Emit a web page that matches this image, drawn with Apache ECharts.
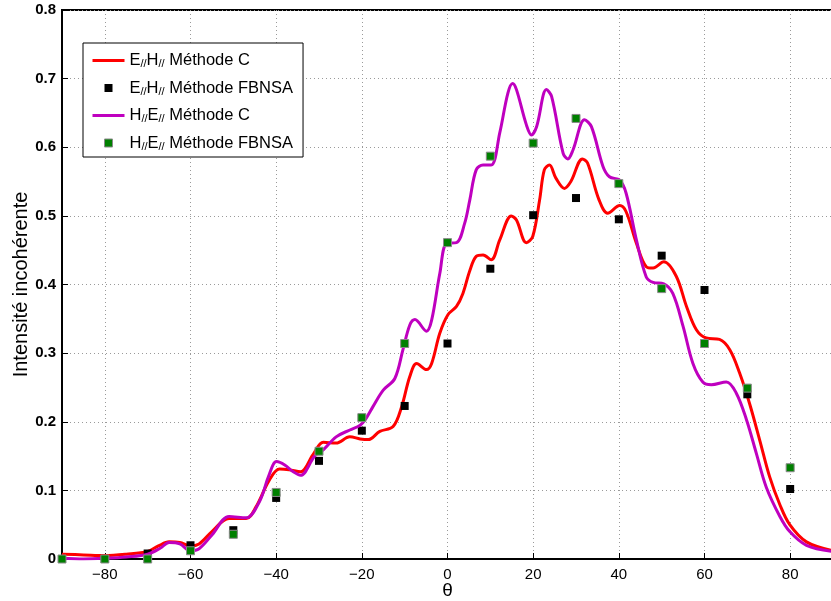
<!DOCTYPE html>
<html>
<head>
<meta charset="utf-8">
<script src="https://cdn.jsdelivr.net/npm/echarts@6/dist/echarts.min.js"></script>
<style>
  html, body { margin: 0; padding: 0; background: #fff; }
  #chart { width: 831px; height: 601px; }
</style>
</head>
<body>
<div id="chart"></div>
<script>
var chart = echarts.init(document.getElementById('chart'));

// angles of the FBNSA points
var thetaPts = [-90, -80, -70, -60, -50, -40, -30, -20, -10, 0, 10, 20, 30, 40, 50, 60, 70, 80];
var ehFbnsa = [0.0, 0.0, 0.008, 0.02, 0.042, 0.089, 0.143, 0.187, 0.223, 0.314, 0.423, 0.501, 0.526, 0.495, 0.442, 0.392, 0.24, 0.102];
var heFbnsa = [0.0, 0.0, 0.0, 0.012, 0.036, 0.097, 0.157, 0.206, 0.314, 0.461, 0.587, 0.606, 0.642, 0.547, 0.394, 0.314, 0.249, 0.133];

// E//H// methode C curve
var ehTheta = [-90, -85, -80, -75, -70, -67.5, -65, -62.5, -60, -58, -55, -51, -47, -44.7, -41.6, -39.2, -37, -34.3, -31.4, -29,
  -26, -22.8, -20.4, -18.5, -15.8, -12.7, -10.7, -8.8, -7.2, -4.9, -3.7, -1.8, 0.1, 2.1, 3.6, 5.2, 6.7, 8.3, 10.2, 12.2,
  14.9, 16.1, 18.4, 19.9, 21.5, 22.6, 23.8, 25.3, 27.3, 28.8, 31.5, 32.7, 35.4, 37.4, 40.2, 41.7, 44.1, 46.4, 48, 50.5,
  53.4, 55.8, 58.1, 60.4, 63.5, 65.9, 68.2, 70.5, 72.9, 75.2, 77.6, 79.9, 83.8, 90];
var ehC = [0.007, 0.006, 0.005, 0.007, 0.011, 0.019, 0.025, 0.024, 0.019, 0.022, 0.04, 0.059, 0.059, 0.076, 0.115, 0.131, 0.13, 0.127, 0.152, 0.17,
  0.169, 0.178, 0.175, 0.174, 0.186, 0.193, 0.222, 0.266, 0.285, 0.276, 0.285, 0.329, 0.356, 0.368, 0.387, 0.42, 0.441, 0.443, 0.436, 0.465,
  0.5, 0.494, 0.461, 0.47, 0.523, 0.567, 0.574, 0.555, 0.54, 0.55, 0.583, 0.577, 0.523, 0.504, 0.515, 0.506, 0.46, 0.426, 0.424, 0.433,
  0.412, 0.368, 0.334, 0.322, 0.32, 0.305, 0.271, 0.227, 0.173, 0.12, 0.079, 0.05, 0.025, 0.012];

// H//E// methode C curve
var heTheta = [-90, -85, -80, -75, -70, -67, -65, -62.5, -60, -58, -55, -51, -47, -43.8, -41.8, -39.9, -38, -36, -34.3, -31, -29,
  -26, -22.8, -20.4, -19, -17.4, -15, -12.3, -10.4, -8.8, -7.6, -4.9, -3.7, -1.8, -0.2, 2.1, 4, 5.2, 6.7, 8.3, 10.2, 12.2,
  14.1, 15.2, 16.1, 18.4, 19.6, 20.8, 23.1, 24.3, 27, 28.1, 29.3, 32, 33.6, 36.3, 37.8, 40.2, 41.7, 44.1, 46.4, 48, 50.5,
  52.6, 55, 57.3, 59.6, 61.6, 65.1, 67.4, 69.8, 72.1, 74.4, 77.6, 79.9, 83.8, 90];
var heC = [0.001, 0.0, 0.001, 0.003, 0.007, 0.016, 0.024, 0.022, 0.012, 0.015, 0.035, 0.062, 0.06, 0.085, 0.12, 0.142, 0.137, 0.127, 0.122, 0.15, 0.159,
  0.178, 0.188, 0.195, 0.205, 0.222, 0.246, 0.263, 0.305, 0.341, 0.349, 0.332, 0.348, 0.416, 0.46, 0.461, 0.489, 0.523, 0.567, 0.574, 0.574, 0.621,
  0.679, 0.693, 0.684, 0.633, 0.618, 0.63, 0.684, 0.674, 0.591, 0.583, 0.596, 0.64, 0.63, 0.572, 0.557, 0.552, 0.533, 0.465, 0.411, 0.403, 0.401,
  0.387, 0.339, 0.285, 0.258, 0.254, 0.258, 0.242, 0.203, 0.154, 0.105, 0.062, 0.04, 0.02, 0.011];

var xTicks = [-80, -60, -40, -20, 0, 20, 40, 60, 80];

var seriesNames = ['EH C', 'EH FBNSA', 'HE C', 'HE FBNSA'];
var legendTexts = {
  'EH C': '{n|E}{s|//}{n|H}{s|//}{n| Méthode C}',
  'EH FBNSA': '{n|E}{s|//}{n|H}{s|//}{n| Méthode FBNSA}',
  'HE C': '{n|H}{s|//}{n|E}{s|//}{n| Méthode C}',
  'HE FBNSA': '{n|H}{s|//}{n|E}{s|//}{n| Méthode FBNSA}'
};

function pairs(xs, ys) {
  var out = [];
  for (var i = 0; i < xs.length; i++) out.push([xs[i], ys[i]]);
  return out;
}

var FONT = 'Liberation Sans';
var lineIcon = 'path://M0,0M32,14M0,5.5h32v3h-32z';
var sqIcon = 'path://M0,0M32,14M12,3h8v8h-8z';

var option = {
  animation: false,
  textStyle: { fontFamily: FONT },
  grid: {
    left: 62, top: 10, width: 771, height: 549,
    outerBoundsMode: 'none', containLabel: false,
    show: true, borderColor: '#000', borderWidth: 2, backgroundColor: 'transparent'
  },
  legend: {
    orient: 'vertical',
    left: 83, top: 43,
    padding: [9, 10, 5, 9],
    itemWidth: 32, itemHeight: 14, itemGap: 10,
    backgroundColor: '#fff',
    borderColor: '#000', borderWidth: 1,
    borderRadius: 0,
    selectedMode: false,
    data: [
      { name: 'EH C', icon: lineIcon, itemStyle: { color: '#ff0000', borderWidth: 0 } },
      { name: 'EH FBNSA', icon: sqIcon, itemStyle: { color: '#000', borderWidth: 0 } },
      { name: 'HE C', icon: lineIcon, itemStyle: { color: '#bf00bf', borderWidth: 0 } },
      { name: 'HE FBNSA', icon: sqIcon, itemStyle: { color: '#008000', borderColor: '#8a8a8a', borderWidth: 1 } }
    ],
    formatter: function (name) { return legendTexts[name]; },
    textStyle: {
      rich: {
        n: { fontFamily: FONT, fontSize: 16.5, color: '#000', lineHeight: 18, verticalAlign: 'middle' },
        s: { fontFamily: FONT, fontSize: 11, color: '#000', lineHeight: 10, verticalAlign: 'bottom', padding: [0, 0, 0, 0] }
      }
    }
  },
  xAxis: {
    type: 'value', min: -90, max: 90,
    name: 'θ', nameLocation: 'middle', nameGap: 22, nameMoveOverlap: false,
    nameTextStyle: { fontFamily: FONT, fontSize: 19, color: '#000' },
    axisLine: { show: true, onZero: false, lineStyle: { color: '#000', width: 2 } },
    axisTick: { show: true, inside: true, length: 6, customValues: xTicks, lineStyle: { color: '#000', width: 1 } },
    axisLabel: {
      customValues: xTicks, color: '#000', fontFamily: FONT, fontSize: 15, margin: 8,
      formatter: function (v) { return String(v).replace('-', '\u2212'); }
    },
    splitLine: { show: true, lineStyle: { color: '#9a9a9a', type: [1, 3], width: 1 } }
  },
  yAxis: {
    type: 'value', min: 0, max: 0.8, interval: 0.1,
    name: 'Intensité incohérente', nameLocation: 'middle', nameRotate: 90, nameGap: 31, nameMoveOverlap: false,
    nameTextStyle: { fontFamily: FONT, fontSize: 20, color: '#000' },
    axisLine: { show: true, onZero: false, lineStyle: { color: '#000', width: 2 } },
    axisTick: { show: true, inside: true, length: 6, lineStyle: { color: '#000', width: 1 } },
    axisLabel: {
      color: '#000', fontFamily: FONT, fontSize: 15, fontWeight: 'bold', margin: 6,
      formatter: function (v) { return v === 0 ? '0' : v.toFixed(1); }
    },
    splitLine: { show: true, lineStyle: { color: '#9a9a9a', type: [1, 3], width: 1 } }
  },
  series: [
    {
      name: seriesNames[0], type: 'line', data: pairs(ehTheta, ehC),
      smooth: 0.35, showSymbol: false, symbol: 'none',
      lineStyle: { color: '#ff0000', width: 3 }, itemStyle: { color: '#ff0000' }, z: 2
    },
    {
      name: seriesNames[1], type: 'scatter', data: pairs(thetaPts, ehFbnsa),
      symbol: 'rect', symbolSize: 8, clip: false,
      itemStyle: { color: '#000', opacity: 1 }, z: 3
    },
    {
      name: seriesNames[2], type: 'line', data: pairs(heTheta, heC),
      smooth: 0.35, showSymbol: false, symbol: 'none',
      lineStyle: { color: '#bf00bf', width: 3 }, itemStyle: { color: '#bf00bf' }, z: 4
    },
    {
      name: seriesNames[3], type: 'scatter', data: pairs(thetaPts, heFbnsa),
      symbol: 'rect', symbolSize: 8, clip: false,
      itemStyle: { color: '#008000', borderColor: '#8a8a8a', borderWidth: 1, opacity: 1 }, z: 5
    }
  ]
};

chart.setOption(option);
</script>
</body>
</html>
